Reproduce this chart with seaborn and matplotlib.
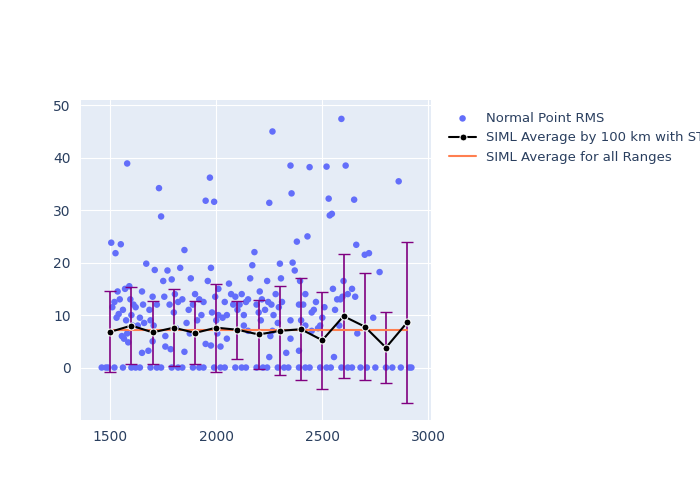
import matplotlib
matplotlib.use("Agg")
import matplotlib.pyplot as plt
import seaborn as sns
import pandas as pd

points = [(1505,23.8),(1510,11.5),(1520,12.5),(1525,21.8),(1530,9.5),(1535,14.5),(1540,10.2),(1545,13.0),(1550,23.5),(1555,6.0),
(1560,11.0),(1565,5.5),(1570,15.0),(1575,9.0),(1580,38.9),(1585,4.8),(1590,15.5),(1595,13.0),(1600,10.0),(1605,8.0),
(1610,12.0),(1620,11.5),(1630,8.0),(1640,9.5),(1650,14.5),(1655,12.0),(1660,8.5),(1670,19.8),(1680,3.2),(1685,11.0),
(1690,9.0),(1700,13.5),(1705,8.0),(1710,18.6),(1720,12.0),(1730,34.2),(1740,28.8),(1750,16.5),(1755,13.5),(1760,6.0),
(1770,18.5),(1780,12.0),(1785,3.5),(1790,16.8),(1800,10.5),(1805,14.0),(1810,7.5),(1820,12.5),(1830,19.0),(1840,13.0),
(1850,22.4),(1860,8.5),(1870,11.0),(1875,6.5),(1880,17.0),(1890,12.0),(1900,14.0),(1910,9.0),(1920,13.0),(1930,10.0),
(1940,12.5),(1950,31.8),(1960,16.5),(1970,36.2),(1975,19.0),(1980,10.5),(1990,31.6),(1995,13.5),(2000,9.0),(2005,6.5),
(2010,15.0),(2020,4.0),(2030,9.5),(2040,12.5),(2050,10.0),(2060,16.0),(2070,14.0),(2080,12.0),(2090,13.5),(2100,11.0),
(2110,12.0),(2120,14.0),(2130,10.0),(2140,12.5),(2150,13.0),(2160,17.0),(2170,19.5),(2180,22.0),(2190,12.0),(2200,10.5),
(2205,14.5),(2210,9.0),(2215,13.0),(2265,45.0),(2250,31.4),(2230,11.0),(2240,16.5),(2245,12.5),(2255,6.0),(2270,10.0),
(2280,14.0),(2290,8.5),(2295,11.5),(2300,19.8),(2305,17.0),(2310,12.5),(2350,38.5),(2355,33.2),(2360,20.0),(2370,18.5),
(2380,24.0),(2390,12.0),(2395,16.5),(2400,9.0),(2430,25.0),(2440,38.2),(2410,12.0),(2420,14.0),(2450,10.5),(2460,11.0),
(2470,12.5),(2480,7.5),(2490,8.0),(2500,9.5),(2520,38.3),(2510,11.5),(2530,32.2),(2535,29.0),(2545,29.3),(2550,15.0),
(2560,11.0),(2570,13.0),(2580,8.0),(2590,47.4),(2595,13.5),(2600,16.5),(2610,38.5),(2620,14.0),(2650,32.0),(2655,13.5),
(2660,23.4),(2640,15.0),(2700,21.5),(2720,21.8),(2740,9.5),(2770,18.2),(2860,35.5),(1580,6.5),(1760,4.0),(1975,4.2),
(2010,10.0),(2265,7.0),(2585,13.0),(2130,8.0),(2260,12.0),(2350,9.0),(2420,8.0),(1650,2.8),(1700,5.0),(1850,3.0),
(1950,4.5),(2050,5.5),(2150,7.0),(2250,2.0),(2350,5.5),(2450,7.0),(2555,2.0),(2665,6.5),(2390,3.2),(2330,2.8),
(1460,0),(1480,0),(1490,0),(1520,0),(1560,0),(1600,0),(1640,0),(1690,0),(1740,0),(1790,0),(1840,0),(1890,0),
(1940,0),(1990,0),(2040,0),(2090,0),(2140,0),(2190,0),(2240,0),(2290,0),(2340,0),(2390,0),(2440,0),(2490,0),
(2540,0),(2590,0),(2640,0),(2680,0),(2710,0),(2750,0),(2800,0),(2830,0),(2870,0),(2910,0),(2920,0),
(1620,0),(1720,0),(1820,0),(1920,0),(2020,0),(2120,0),(2220,0),(2320,0),(2420,0),(2520,0),(2620,0)]
pts_x = [p[0] for p in points]
pts_y = [p[1] for p in points]

avg_x = [1500,1600,1700,1800,1900,2000,2100,2200,2300,2400,2500,2600,2700,2800,2900]
avg_y = [6.8,8.0,6.7,7.6,6.6,7.6,7.2,6.3,7.0,7.3,5.2,9.8,7.8,3.8,8.6]
std_y = [7.7,7.4,6.0,7.4,6.0,8.4,5.5,6.6,8.5,9.7,9.2,11.8,10.2,6.8,15.4]
overall = 7.1

df = pd.DataFrame({"x": pts_x, "y": pts_y})
sns.set_style("darkgrid", {"axes.facecolor": "#E5ECF6", "grid.color": "white"})
fig, ax = plt.subplots(figsize=(7, 5), dpi=100)
fig.subplots_adjust(left=0.115, right=0.615, top=0.8, bottom=0.16)
sns.scatterplot(data=df, x="x", y="y", ax=ax, color="#636EFA", s=22, edgecolor="none", label="Normal Point RMS", zorder=2)
ax.errorbar(avg_x, avg_y, yerr=std_y, color="purple", fmt="none", capsize=4, lw=1.2, zorder=3)
sns.lineplot(x=avg_x, y=avg_y, ax=ax, color="black", marker="o", markersize=5, label="SIML Average by 100 km with STD", zorder=4)
sns.lineplot(x=[avg_x[0], avg_x[-1]], y=[overall, overall], ax=ax, color="#FF7F50", label="SIML Average for all Ranges", zorder=3)
ax.set_xlim(1360, 3010)
ax.set_ylim(-10, 51)
ax.set_xticks([1500, 2000, 2500, 3000])
ax.set_yticks([0, 10, 20, 30, 40, 50])
ax.set_xlabel(""); ax.set_ylabel("")
ax.tick_params(colors="#2a3f5f", labelsize=10)
for s in ax.spines.values(): s.set_visible(False)
ax.legend(loc="upper left", bbox_to_anchor=(1.02, 1.0), frameon=False, fontsize=9.5, labelcolor="#2a3f5f")
fig.savefig("out.png")
